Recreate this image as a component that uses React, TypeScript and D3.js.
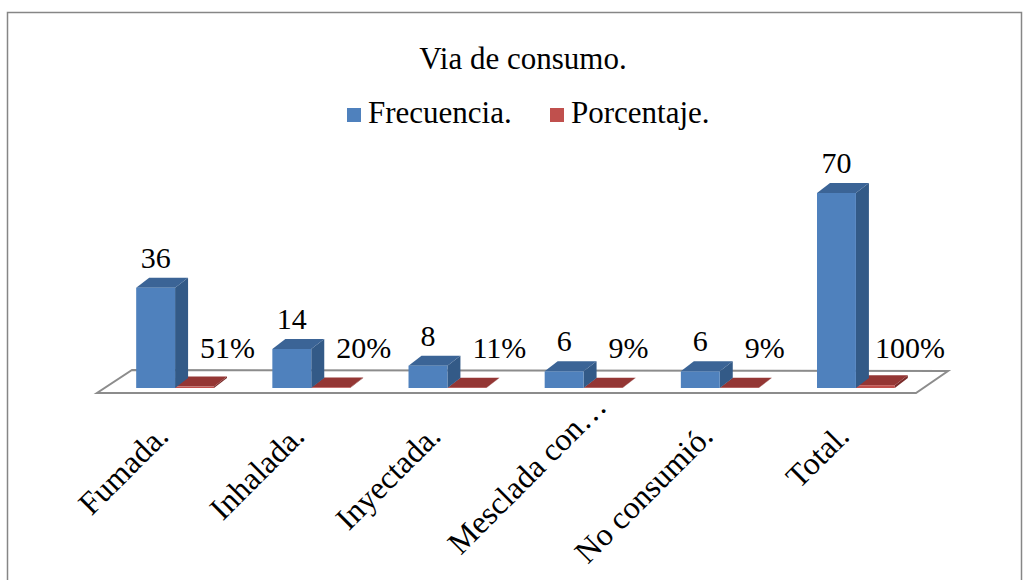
import React, { useEffect, useRef } from "react";
import * as d3 from "d3";

const categories = ["Fumada.", "Inhalada.", "Inyectada.", "Mesclada con…", "No consumió.", "Total."];
const frecuencia = [36, 14, 8, 6, 6, 70];
const porcentaje = [0.51, 0.2, 0.11, 0.09, 0.09, 1.0];
const porcentajeLabels = ["51%", "20%", "11%", "9%", "9%", "100%"];
const seriesNames = ["Frecuencia.", "Porcentaje."];
const title = "Via de consumo.";

const W = 1026;
const H = 580;
const FONT = "Liberation Serif, Times New Roman, DejaVu Serif, serif";

export default function App() {
  const ref = useRef<SVGSVGElement | null>(null);

  useEffect(() => {
    const svg = d3.select(ref.current);
    svg.selectAll("*").remove();

    const x = d3.scaleBand<string>().domain(categories).range([107, 924]).padding(0);
    const xi = d3.scaleBand<string>().domain(["f", "p"]).range([0, x.bandwidth()]).paddingInner(0).paddingOuter(0.75);
    const y = d3.scaleLinear().domain([0, 70]).range([388, 193]);
    const y0 = y(0);
    const DX = 13, DY = 10;

    // frame
    svg.append("rect").attr("x", 7.5).attr("y", 12.5).attr("width", 1014).attr("height", 600)
      .attr("fill", "#fff").attr("stroke", "#868686").attr("stroke-width", 1.5);

    // title
    svg.append("text").attr("x", 523).attr("y", 69).attr("text-anchor", "middle")
      .attr("font-family", FONT).attr("font-size", 31).attr("fill", "#000").text(title);

    // legend
    const legendColors = ["#4F81BD", "#C0504D"];
    const legendX = [347, 550];
    seriesNames.forEach((n, i) => {
      svg.append("rect").attr("x", legendX[i]).attr("y", 108).attr("width", 14).attr("height", 14).attr("fill", legendColors[i]);
      svg.append("text").attr("x", legendX[i] + 21).attr("y", 123).attr("font-family", FONT)
        .attr("font-size", 31).attr("fill", "#000").text(n);
    });

    // floor
    const fl = x.range()[0] - 10, fr = x.range()[1] - 8;
    const floor: [number, number][] = [[fl, y0 + 5], [fr, y0 + 5], [fr + 32, y0 - 17], [fl + 35, y0 - 18]];
    svg.append("polygon").attr("points", floor.map(p => p.join(",")).join(" "))
      .attr("fill", "#fff").attr("stroke", "#8c8c8c").attr("stroke-width", 2);

    const box = (g: any, bx: number, bw: number, top: number, bottom: number, c: { front: string; side: string; top: string }) => {
      g.append("polygon").attr("points", [[bx + bw, bottom], [bx + bw + DX, bottom - DY], [bx + bw + DX, top - DY], [bx + bw, top]].map(p => p.join(",")).join(" "))
        .attr("fill", c.side);
      g.append("polygon").attr("points", [[bx, top], [bx + DX, top - DY], [bx + bw + DX, top - DY], [bx + bw, top]].map(p => p.join(",")).join(" "))
        .attr("fill", c.top);
      g.append("rect").attr("x", bx).attr("y", top).attr("width", bw).attr("height", Math.max(0, bottom - top)).attr("fill", c.front);
    };

    const bars = svg.append("g");
    categories.forEach((cat, i) => {
      const bx = x(cat)! + xi("f")!;
      const px = x(cat)! + xi("p")!;
      const bw = xi.bandwidth();
      box(bars, px, bw, y(porcentaje[i]), y0, { front: "#C0504D", side: "#7a2b29", top: "#943634" });
      box(bars, bx, bw, y(frecuencia[i]), y0, { front: "#4F81BD", side: "#335A87", top: "#3B6496" });
    });

    // data labels
    categories.forEach((cat, i) => {
      const bx = x(cat)! + xi("f")!;
      const px = x(cat)! + xi("p")!;
      const bw = xi.bandwidth();
      svg.append("text").attr("x", bx + bw / 2).attr("y", y(frecuencia[i]) - 20).attr("text-anchor", "middle")
        .attr("font-family", FONT).attr("font-size", 30).attr("fill", "#000").text(String(frecuencia[i]));
      const t = svg.append("text").attr("x", px + 25).attr("y", y0 - 30)
        .attr("font-family", FONT).attr("font-size", 30).attr("fill", "#000").text(porcentajeLabels[i]);
      const node = t.node() as SVGTextElement;
      const len = node.getComputedTextLength();
      const maxRight = 945;
      if (px + 25 + len > maxRight) t.attr("x", maxRight - len);
    });

    // axis labels
    categories.forEach((cat) => {
      const cx = x(cat)! + x.bandwidth() / 2;
      const shift = cat.endsWith("…") ? 42 : 0;
      svg.append("text")
        .attr("transform", `translate(${cx - 5},${438}) rotate(-45)`)
        .attr("x", shift)
        .attr("text-anchor", "end")
        .attr("font-family", FONT).attr("font-size", 32).attr("fill", "#000").text(cat);
    });
  }, []);

  return (
    <svg ref={ref} width={W} height={H} style={{ position: "absolute", left: 0, top: 0, background: "#fff" }} />
  );
}
